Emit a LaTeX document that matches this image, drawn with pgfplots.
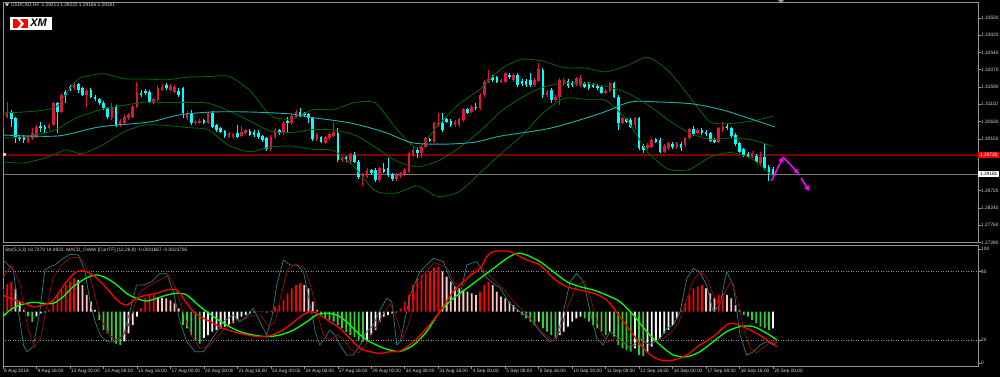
\documentclass[border=0pt]{standalone}
\usepackage{fontspec}
\setmainfont{Liberation Sans}
\usepackage{pgfplots}
\pgfplotsset{compat=1.18}
\usepackage{pgfplotstable}
\usetikzlibrary{arrows.meta}
\definecolor{upc}{RGB}{225,20,60}
\definecolor{dnc}{RGB}{0,255,255}
\definecolor{bbc}{RGB}{0,105,0}
\definecolor{mac}{RGB}{32,178,170}
\definecolor{framec}{RGB}{150,150,150}
\definecolor{txtc}{RGB}{215,215,215}
\definecolor{lvlred}{RGB}{128,0,0}
\definecolor{bidc}{RGB}{120,120,120}
\definecolor{stk}{RGB}{40,125,125}
\definecolor{std}{RGB}{150,10,10}
\definecolor{hred}{RGB}{255,0,0}
\definecolor{hpink}{RGB}{255,195,200}
\definecolor{hgreen}{RGB}{50,205,50}
\definecolor{hwhite}{RGB}{245,245,245}
\definecolor{mred}{RGB}{255,0,0}
\definecolor{mgreen}{RGB}{0,255,0}
\definecolor{fcst}{RGB}{255,0,255}
\newcommand{\tf}{\fontsize{4.8pt}{5.5pt}\selectfont}

\pgfplotstableread{
x o h l c
0 1.30482 1.30814 1.30454 1.30758
1 1.30758 1.31174 1.30731 1.30897
6 1.30066 1.30260 1.30038 1.30205
7 1.30177 1.30454 1.30122 1.30315
8 1.30205 1.30537 1.30177 1.30482
11 1.30454 1.30592 1.30398 1.30537
12 1.30537 1.31174 1.30509 1.31146
14 1.30897 1.31423 1.30869 1.31368
17 1.31561 1.31700 1.31506 1.31645
20 1.31368 1.31534 1.31035 1.31478
26 1.30731 1.31146 1.30675 1.31035
28 1.30537 1.30703 1.30482 1.30648
29 1.30592 1.30814 1.30537 1.30758
30 1.30731 1.30869 1.30675 1.30814
31 1.30758 1.31091 1.30731 1.31035
32 1.31035 1.31728 1.31008 1.31423
36 1.31146 1.31285 1.31118 1.31257
37 1.31229 1.31645 1.31201 1.31561
38 1.31506 1.31672 1.31478 1.31589
40 1.31506 1.31672 1.31478 1.31617
41 1.31451 1.31645 1.31423 1.31589
44 1.30731 1.30925 1.30675 1.30869
46 1.30592 1.30675 1.30537 1.30620
47 1.30592 1.30703 1.30565 1.30648
49 1.30592 1.30897 1.30565 1.30869
54 1.30205 1.30343 1.30177 1.30315
55 1.30205 1.30315 1.30149 1.30288
57 1.30232 1.30509 1.30205 1.30343
58 1.30315 1.30426 1.30260 1.30398
64 1.29872 1.30260 1.29817 1.30205
65 1.30205 1.30454 1.30149 1.30398
67 1.30315 1.30648 1.30260 1.30592
69 1.30592 1.30841 1.30537 1.30786
70 1.30758 1.30952 1.30731 1.30897
75 1.30149 1.30315 1.30094 1.30260
77 1.30038 1.30232 1.30011 1.30205
78 1.30177 1.30343 1.30122 1.30288
79 1.30232 1.30620 1.30205 1.30343
81 1.29568 1.29678 1.29512 1.29623
83 1.29540 1.29762 1.29485 1.29734
86 1.29097 1.29208 1.28848 1.29152
87 1.29097 1.29346 1.29069 1.29291
90 1.29014 1.29374 1.28959 1.29346
94 1.29042 1.29208 1.28986 1.29152
95 1.29125 1.29235 1.29069 1.29208
96 1.29180 1.29346 1.29125 1.29291
97 1.29235 1.29789 1.29208 1.29762
98 1.29706 1.29955 1.29651 1.29845
100 1.29762 1.29983 1.29623 1.29928
101 1.29928 1.30205 1.29900 1.30177
103 1.30066 1.30620 1.30038 1.30592
104 1.30537 1.30869 1.30482 1.30592
108 1.30537 1.30675 1.30482 1.30620
109 1.30537 1.30731 1.30482 1.30703
110 1.30675 1.31008 1.30620 1.30980
112 1.30897 1.31091 1.30869 1.31035
114 1.31008 1.31423 1.30952 1.31368
115 1.31368 1.31783 1.31312 1.31728
116 1.31728 1.32060 1.31700 1.31811
119 1.31728 1.31811 1.31700 1.31783
120 1.31728 1.32004 1.31700 1.31977
122 1.31783 1.31977 1.31728 1.31921
127 1.31645 1.31838 1.31589 1.31783
128 1.31755 1.32254 1.31728 1.32087
130 1.31368 1.31506 1.31312 1.31451
132 1.31229 1.31368 1.31174 1.31312
133 1.31312 1.31838 1.31091 1.31783
134 1.31672 1.31838 1.31617 1.31783
137 1.31672 1.31866 1.31617 1.31838
138 1.31645 1.31921 1.31589 1.31838
144 1.31423 1.31534 1.31395 1.31478
145 1.31478 1.31728 1.31451 1.31700
148 1.30592 1.30758 1.30565 1.30731
151 1.30537 1.30758 1.30398 1.30731
154 1.29900 1.30038 1.29845 1.29983
155 1.29928 1.30177 1.29900 1.30122
158 1.29789 1.30011 1.29762 1.29955
159 1.29900 1.30066 1.29845 1.30038
161 1.29928 1.30066 1.29872 1.30038
163 1.29983 1.30205 1.29928 1.30177
164 1.30177 1.30454 1.30122 1.30426
166 1.30315 1.30454 1.30288 1.30398
171 1.30066 1.30482 1.30038 1.30454
172 1.30398 1.30620 1.30343 1.30482
179 1.29651 1.29817 1.29623 1.29762
181 1.29485 1.29789 1.29429 1.29651
}\upT

\pgfplotstableread{
x o h l c
2 1.30897 1.30952 1.30482 1.30703
3 1.30731 1.30758 1.30038 1.30177
4 1.30205 1.30260 1.30094 1.30149
5 1.30205 1.30260 1.30038 1.30122
9 1.30509 1.30620 1.30343 1.30454
10 1.30482 1.30537 1.30315 1.30426
13 1.31146 1.31174 1.30315 1.30897
15 1.31451 1.31506 1.31146 1.31368
16 1.31589 1.31645 1.31478 1.31534
18 1.31672 1.31700 1.31423 1.31506
19 1.31561 1.31589 1.31340 1.31368
21 1.31506 1.31561 1.31285 1.31312
22 1.31312 1.31368 1.31201 1.31257
23 1.31257 1.31285 1.31091 1.31146
24 1.31146 1.31201 1.30952 1.31008
25 1.31008 1.31035 1.30703 1.30758
27 1.31035 1.31091 1.30482 1.30537
33 1.31423 1.31506 1.31312 1.31368
34 1.31478 1.31534 1.31368 1.31423
35 1.31451 1.31506 1.31146 1.31174
39 1.31645 1.31700 1.31506 1.31561
42 1.31478 1.31561 1.31312 1.31368
43 1.31561 1.31589 1.30731 1.30869
45 1.30869 1.30952 1.30537 1.30592
48 1.30675 1.30703 1.30565 1.30592
50 1.30869 1.30925 1.30454 1.30482
51 1.30537 1.30565 1.30343 1.30398
52 1.30454 1.30482 1.30315 1.30343
53 1.30371 1.30398 1.30177 1.30232
56 1.30315 1.30537 1.30177 1.30205
59 1.30371 1.30426 1.30232 1.30260
60 1.30343 1.30398 1.30205 1.30260
61 1.30315 1.30398 1.30149 1.30205
62 1.30232 1.30260 1.30066 1.30122
63 1.30177 1.30205 1.29817 1.29872
66 1.30398 1.30426 1.30260 1.30315
68 1.30648 1.30758 1.30343 1.30592
71 1.30897 1.31008 1.30758 1.30814
72 1.30869 1.30897 1.30758 1.30814
73 1.30841 1.30869 1.30592 1.30731
74 1.30731 1.30758 1.30094 1.30149
76 1.30205 1.30232 1.30038 1.30066
80 1.30315 1.30454 1.29512 1.29568
82 1.29651 1.29678 1.29512 1.29568
84 1.29706 1.29789 1.29485 1.29512
85 1.29512 1.29568 1.29042 1.29097
88 1.29291 1.29318 1.29152 1.29208
89 1.29291 1.29346 1.28959 1.29014
91 1.29318 1.29485 1.29208 1.29235
92 1.29346 1.29623 1.29097 1.29152
93 1.29180 1.29208 1.28986 1.29042
99 1.29845 1.29900 1.29623 1.29762
102 1.30149 1.30177 1.30066 1.30094
105 1.30592 1.30869 1.30343 1.30398
106 1.30703 1.30731 1.30592 1.30620
107 1.30648 1.30703 1.30482 1.30537
111 1.30980 1.31008 1.30841 1.30869
113 1.31035 1.31146 1.30952 1.31008
117 1.31866 1.31921 1.31728 1.31783
118 1.31866 1.31894 1.31700 1.31728
121 1.31921 1.31977 1.31811 1.31866
123 1.31921 1.31977 1.31589 1.31645
124 1.31755 1.31811 1.31617 1.31672
125 1.31755 1.31811 1.31589 1.31645
126 1.31783 1.31977 1.31589 1.31645
129 1.32060 1.32115 1.31285 1.31368
131 1.31506 1.31561 1.31146 1.31229
135 1.31755 1.31811 1.31561 1.31617
136 1.31700 1.31755 1.31589 1.31645
139 1.31672 1.31728 1.31561 1.31589
140 1.31672 1.31728 1.31506 1.31561
141 1.31645 1.31700 1.31561 1.31589
142 1.31617 1.31672 1.31506 1.31561
143 1.31589 1.31645 1.31395 1.31423
146 1.31700 1.31728 1.31285 1.31312
147 1.31312 1.31368 1.30398 1.30592
149 1.30703 1.30731 1.30592 1.30620
150 1.30675 1.30731 1.30454 1.30482
152 1.30731 1.30758 1.29845 1.29900
153 1.29955 1.30011 1.29762 1.29845
156 1.30149 1.30177 1.30038 1.30066
157 1.30122 1.30177 1.29762 1.29789
160 1.30011 1.30066 1.29872 1.29928
162 1.30011 1.30066 1.29817 1.29900
165 1.30426 1.30509 1.30232 1.30288
167 1.30398 1.30454 1.30260 1.30315
168 1.30343 1.30398 1.30232 1.30288
169 1.30315 1.30343 1.30066 1.30094
170 1.30122 1.30177 1.30038 1.30066
173 1.30509 1.30565 1.30398 1.30454
174 1.30454 1.30482 1.30177 1.30232
175 1.30260 1.30315 1.29955 1.30011
176 1.30038 1.30066 1.29762 1.29789
177 1.29872 1.29900 1.29651 1.29706
178 1.29734 1.29789 1.29623 1.29651
180 1.29678 1.29734 1.29485 1.29512
182 1.29651 1.30038 1.29291 1.29346
183 1.29374 1.29429 1.28986 1.29208
184 1.29318 1.29374 1.29152 1.29180
}\dnT

\pgfplotstableread{
x up mid lo
0 1.30869 1.30177 1.29512
5 1.30897 1.30205 1.29485
10 1.30952 1.30315 1.29623
13 1.31063 1.30426 1.29762
15 1.31395 1.30565 1.29845
17 1.31700 1.30703 1.29789
19 1.31866 1.30803 1.29739
24 1.31957 1.30977 1.29997
29 1.31816 1.31085 1.30354
34 1.31811 1.31171 1.30537
39 1.31788 1.31157 1.30526
44 1.31860 1.31163 1.30465
49 1.31877 1.31140 1.30404
54 1.31885 1.30927 1.29969
59 1.31492 1.30645 1.29797
64 1.30794 1.30362 1.29930
69 1.30703 1.30329 1.29955
74 1.30960 1.30412 1.29864
79 1.30966 1.30396 1.29825
84 1.31160 1.30263 1.29366
89 1.31146 1.29917 1.28709
94 1.30434 1.29543 1.28654
99 1.29900 1.29377 1.28848
104 1.30537 1.29545 1.28554
109 1.31118 1.29903 1.28690
114 1.31525 1.30368 1.29210
119 1.32090 1.30916 1.29742
124 1.32356 1.31301 1.30246
129 1.32303 1.31583 1.30864
134 1.32126 1.31700 1.31273
139 1.32115 1.31683 1.31251
144 1.32010 1.31611 1.31212
149 1.32173 1.31431 1.30689
154 1.32414 1.31102 1.29789
159 1.32035 1.30672 1.29310
164 1.31323 1.30315 1.29307
169 1.30625 1.30138 1.29651
174 1.30581 1.30177 1.29773
179 1.30645 1.30122 1.29598
184 1.30778 1.29944 1.29111
}\bbT

\begin{document}
\begin{tikzpicture}
\fill[black] (0pt,0pt) rectangle (1000pt,377pt);

% ---------------- main price panel ----------------
\begin{scope}[shift={(3pt,134.4pt)}]
\begin{axis}[
  at={(0pt,0pt)}, anchor=south west, scale only axis,
  width=975pt, height=240.6pt,
  xmin=0, xmax=232.97, ymin=1.27280, ymax=1.33943,
  axis line style={framec, line width=0.8pt},
  xtick=\empty,
  ytick={1.27280,1.27760,1.28240,1.28720,1.30150,1.30630,1.31110,1.31590,1.32070,1.32540,1.33020,1.33500},
  yticklabels={1.27280,1.27760,1.28240,1.28720,1.30150,1.30630,1.31110,1.31590,1.32070,1.32540,1.33020,1.33500},
  ytick pos=right, yticklabel pos=right, tick align=outside, major tick length=2.5pt,
  tick style={framec, line width=0.6pt},
  yticklabel style={font=\tf, text=txtc, anchor=west, inner sep=0pt, xshift=0.5pt},
  scaled y ticks=false,
  clip mode=individual,
]
\addplot[lvlred, line width=2pt] coordinates {(0,1.29706) (232.97,1.29706)};
\addplot[bidc, line width=0.7pt] coordinates {(0,1.29181) (232.97,1.29181)};

\addplot[upc, line width=0.9pt, quiver={u=0,v=\thisrow{h}-\thisrow{l}}] table[x=x,y=l] {\upT};
\addplot[upc, line width=2.6pt, quiver={u=0,v=\thisrow{c}-\thisrow{o}}] table[x=x,y=o] {\upT};
\addplot[dnc, line width=0.9pt, quiver={u=0,v=\thisrow{h}-\thisrow{l}}] table[x=x,y=l] {\dnT};
\addplot[dnc, line width=2.6pt, quiver={u=0,v=\thisrow{c}-\thisrow{o}}] table[x=x,y=o] {\dnT};

\addplot[bbc, line width=0.8pt, smooth, tension=0.4] table[x=x,y=up] {\bbT};
\addplot[bbc, line width=0.8pt, smooth, tension=0.4] table[x=x,y=mid] {\bbT};
\addplot[bbc, line width=0.8pt, smooth, tension=0.4] table[x=x,y=lo] {\bbT};
\addplot[mac, line width=0.9pt, smooth, tension=0.5] coordinates {
(0,1.30260) (13,1.30232) (23,1.30482) (35,1.30620) (42,1.30814) (50,1.30897) (59,1.30897) (69,1.30841) (73,1.30758) (83,1.30592) (91,1.30343) (97,1.30066) (101,1.30011) (107,1.30011) (113,1.30066) (119,1.30232) (131,1.30454) (143,1.30869) (150,1.31174) (157,1.31174) (165,1.31118) (172,1.30952) (178,1.30731) (184.5,1.30482)};

\addplot[fcst, line width=1.5pt, -{Triangle[length=5pt,width=5pt]}] coordinates {(183.6,1.28986) (186.4,1.29651)};
\addplot[fcst, line width=1.5pt, -{Triangle[length=5pt,width=5pt]}] coordinates {(186.4,1.29651) (190.2,1.29180)};
\addplot[fcst, line width=1.5pt, -{Triangle[length=5pt,width=5pt]}] coordinates {(190.7,1.29069) (192.6,1.28709)};

\node[anchor=west, fill=red, text=white, font=\tf, inner sep=0.6pt, minimum height=6.5pt, minimum width=21pt] at (axis cs:232.97,1.29706) {1.29720};
\node[anchor=west, fill=white, text=black, font=\tf, inner sep=0.6pt, minimum height=6.5pt, minimum width=21pt] at (axis cs:232.97,1.29181) {1.29181};
\end{axis}
\end{scope}

% ---------------- lower panel: frame, ticks ----------------
\begin{scope}[shift={(3pt,11pt)}]
\begin{axis}[
  at={(0pt,0pt)}, anchor=south west, scale only axis,
  width=975pt, height=121pt,
  xmin=0, xmax=232.97, ymin=-2.63, ymax=103.5,
  axis line style={framec, line width=0.8pt},
  xtick={0,8,...,184},
  xticklabels={8 Aug 2018,9 Aug 16:00,13 Aug 00:00,14 Aug 08:00,15 Aug 16:00,17 Aug 00:00,20 Aug 08:00,21 Aug 16:00,23 Aug 00:00,24 Aug 08:00,27 Aug 16:00,29 Aug 00:00,30 Aug 08:00,31 Aug 16:00,4 Sep 00:00,5 Sep 08:00,6 Sep 16:00,10 Sep 00:00,11 Sep 08:00,12 Sep 16:00,14 Sep 00:00,17 Sep 08:00,18 Sep 16:00,20 Sep 00:00},
  ytick={0,20,80,100}, yticklabels={0,20,80,100},
  xtick pos=left, ytick pos=right, yticklabel pos=right,
  tick align=outside, major tick length=2.5pt,
  tick style={framec, line width=0.6pt},
  xticklabel style={font=\tf, text=txtc, anchor=north west, inner sep=0pt, xshift=1pt, yshift=-0.5pt},
  yticklabel style={font=\tf, text=txtc, anchor=west, inner sep=0pt, xshift=0.5pt},
  clip mode=individual,
]
\addplot[framec, line width=0.6pt, dash pattern=on 1pt off 1.5pt] coordinates {(0,20) (232.97,20)};
\addplot[framec, line width=0.6pt, dash pattern=on 1pt off 1.5pt] coordinates {(0,80) (232.97,80)};
\end{axis}
\end{scope}

% ---------------- lower panel: OsMA histogram ----------------
\begin{scope}[shift={(3pt,11pt)}]
\begin{axis}[
  at={(0pt,0pt)}, anchor=south west, scale only axis,
  width=975pt, height=121pt,
  xmin=0, xmax=232.97, ymin=-47.63, ymax=58.5,
  hide axis, clip mode=individual,
]
\addplot[ybar, bar width=1.8pt, bar shift=0pt, fill=hred, draw=none] coordinates {
(0,20)(1,24)(2,26)(11,1.5)(12,10)(13,14.6)(14,19)(15,23.4)(16,26.3)(17,29.2)(33,3)(34,11.7)(35,14.6)(36,15)(61,0.5)(64,0.8)(65,4.4)(66,5.8)(67,10.2)(68,16)(69,20.5)(70,23.4)(71,24.9)(95,2.9)(96,8.8)(97,14.6)(98,23.4)(99,29.2)(100,32.2)(101,33.6)(102,35.1)(103,38.6)(104,39.5)(114,17.5)(115,23.4)(116,26.3)(162,1.5)(163,7.3)(164,14.6)(165,20.5)(166,21.9)(167,23.4)(171,14.6)(172,16)};
\addplot[ybar, bar width=1.8pt, bar shift=0pt, fill=hpink, draw=none] coordinates {
(3,20)(4,9)(5,1.5)(18,28)(19,23.4)(20,14.6)(21,8.8)(22,1.5)(37,13)(38,12)(39,11.7)(40,10)(41,7.3)(42,3)(62,0.3)(72,23.4)(73,20.5)(74,8.8)(75,1.5)(105,35.1)(106,30.7)(107,26.3)(108,21.9)(109,20.5)(110,19)(111,17.5)(112,16)(113,14.6)(117,23.4)(118,17.5)(119,13.2)(120,11.7)(121,8.8)(122,5.8)(123,1.5)(168,20.5)(169,16)(170,11.7)(173,14.6)(174,11.7)(175,5.8)(176,1.5)};
\addplot[ybar, bar width=1.8pt, bar shift=0pt, fill=hgreen, draw=none] coordinates {
(6,-4)(7,-9)(23,-7.3)(24,-16)(25,-19)(26,-25)(27,-28)(28,-29.2)(43,-11.7)(44,-14.6)(45,-20.5)(46,-25)(47,-28)(76,-2.9)(77,-5.8)(78,-7.3)(79,-8.8)(80,-11.7)(81,-14.6)(82,-18)(83,-20.5)(84,-22)(85,-25)(86,-26.3)(124,-2.9)(125,-5.8)(126,-8.8)(127,-11.7)(129,-14.6)(130,-17.5)(131,-20.5)(132,-23.4)(139,-5.8)(140,-8.8)(141,-11.7)(142,-14.6)(143,-17.5)(144,-20.5)(146,-21.9)(147,-29.2)(148,-32.2)(149,-33.6)(150,-35.1)(152,-38)(153,-39)(177,-2.9)(178,-4.4)(179,-7.3)(180,-10.2)(181,-13.2)(182,-14.6)(183,-16)};
\addplot[ybar, bar width=1.8pt, bar shift=0pt, fill=hwhite, draw=none] coordinates {
(8,-4)(9,-1.5)(10,-0.5)(29,-26)(30,-19)(31,-11.7)(32,-4.4)(48,-23)(49,-20.5)(50,-17.5)(51,-16)(52,-14.6)(53,-13)(54,-11.7)(55,-10)(56,-7.3)(57,-4.4)(58,-3)(59,-1.5)(60,-0.5)(63,-0.5)(87,-26)(88,-20.5)(89,-16)(90,-8.8)(91,-4.4)(92,-2.9)(93,-1.5)(94,-0.5)(128,-8.8)(133,-20.5)(134,-17.5)(135,-13.2)(136,-8.8)(137,-5.8)(138,-4.4)(145,-17.5)(151,-32.2)(154,-35.1)(155,-30.7)(156,-26.3)(157,-23.4)(158,-19)(159,-16)(160,-11.7)(161,-5.8)(184,-14.6)};
\end{axis}
\end{scope}

% ---------------- lower panel: lines ----------------
\begin{scope}[shift={(3pt,11pt)}]
\begin{axis}[
  at={(0pt,0pt)}, anchor=south west, scale only axis,
  width=975pt, height=121pt,
  xmin=0, xmax=232.97, ymin=-2.63, ymax=103.5,
  hide axis, clip mode=individual,
]
\addplot[stk, line width=0.7pt] coordinates {
(0,90.3) (0.9,87.4) (2.5,81.6) (3.7,45) (4.9,15.8) (5.7,9.9) (7.2,14.3) (8.8,45) (10,81.6) (11.2,84.5) (12.4,86) (14.4,91.8) (16,95.3) (18,94.7) (19.6,80.1) (20.8,53.8) (22,36.2) (23.2,24.6) (24.8,18.7) (26.8,18.7) (28.8,24.6) (30.3,45) (31.9,68.4) (33.5,68.4) (35.5,71.3) (37.5,78.6) (39.1,78.6) (40.7,62.6) (42.3,36.2) (43.9,18.7) (45.9,9.9) (47.9,9.9) (49.5,18.7) (51.1,27.5) (52.6,36.2) (55,42.1) (56.6,36.2) (58.2,40.6) (59.8,47.9) (61.8,33.3) (63,24.6) (64.2,39.2) (65.4,68.4) (67,90.3) (68.6,86) (70.2,86) (71.8,80.1) (73.4,50.9) (74.6,27.5) (75.7,15.8) (76.9,21.6) (78.1,28.9) (79.3,24.6) (80.5,15.8) (82.1,7) (83.7,7) (85.3,15.8) (86.9,27.5) (88.5,33.3) (90.1,46.5) (91.7,56.7) (92.9,53.8) (94.1,15.8) (94.9,18.7) (97.3,59.6) (99.6,80.1) (102.8,91.8) (105.2,88.9) (106.8,74.3) (109.2,59.6) (110.8,86) (113.2,88.9) (115.6,74.3) (118.8,65.5) (121.1,52.3) (123.5,45) (125.9,39.2) (128.3,27.5) (130.7,18.7) (132.3,21.6) (133.9,45) (135.5,71.3) (137.1,78.6) (138.7,71.3) (140.3,45) (141.9,21.6) (143.4,15.8) (145,27.5) (147.4,21.6) (149.8,12.9) (152.2,21.6) (154.6,15.8) (157,21.6) (158.6,30.4) (160.2,33.3) (161.8,45) (163.4,74.3) (165,83) (166.5,80.1) (168.1,68.4) (169.7,45) (171.3,50.9) (172.9,80.1) (174.5,68.4) (176.1,24.6) (177.7,7) (179.3,9.9) (180.9,15.8) (182.5,18.7) (184.1,15.8) (184.9,18.7)};
\addplot[std, line width=0.7pt] coordinates {
(0,75)(2,86)(4,70)(6,30)(7.5,14)(9,22)(10.5,50)(12,75)(14,86)(16,92)(18.5,93)(20.5,80)(22,58)(23.5,38)(25.5,24)(27.5,20)(29.5,28)(31,45)(32.5,62)(35,68)(37,72)(39.5,77)(41,68)(43,45)(45,24)(47,13)(49,14)(51,22)(53,30)(55.5,38)(57.5,38)(59.5,42)(61.5,42)(63.5,32)(65,36)(66.5,60)(68,82)(70,87)(72,83)(73.5,68)(75,45)(76.5,25)(78,20)(80,25)(81.5,20)(83,12)(85,9)(86.5,15)(88,25)(89.5,34)(91,44)(92.5,52)(94,40)(95.5,22)(97,35)(98.5,60)(100.5,78)(103,88)(106,84)(108,70)(110,68)(112,80)(114,85)(116.5,76)(119.5,65)(122,54)(124.5,45)(127,35)(129.5,25)(131.5,19)(133,27)(135,50)(137,68)(139,72)(140.5,55)(142.5,30)(144.5,18)(146,22)(148.5,18)(151,15)(153,17)(155.5,18)(158,22)(160,28)(161.5,36)(163,52)(165,73)(166.5,80)(168,76)(169.5,62)(171,50)(172.5,62)(174,72)(175.5,55)(177,30)(178.5,13)(180,9)(181.5,13)(183,17)(184.9,19.5)};
\addplot[mgreen, line width=1.3pt, smooth] coordinates {
(0,40.6) (1.7,46.5) (4.1,50.9) (7.2,53.2) (9.6,52.3) (12,52.3) (14.4,58.2) (16.8,67) (20,74.8) (22.4,77.2) (24.8,74.3) (27.2,68.4) (29.5,61.1) (31.9,56.7) (34.3,54.4) (36.7,56.7) (39.1,59.6) (41.5,61.1) (43.9,59.6) (47.1,49.4) (50.3,40.6) (53.4,33.3) (56.6,27.5) (59.8,24.6) (63,23.1) (66.2,24.6) (69.4,28.9) (72.6,36.2) (74.9,42.1) (77.3,43.6) (79.7,42.1) (82.1,36.2) (84.5,27.5) (86.9,20.2) (90.1,14.3) (92.5,11.4) (94.9,10.2) (98.1,15.8) (101.2,27.5) (104.4,45) (107.6,56.7) (110.8,65.5) (114,74.3) (117.2,83) (120.4,91.8) (122.8,96.2) (125.1,94.7) (128.3,88.9) (131.5,80.1) (134.7,71.3) (137.9,66.9) (141.1,64) (144.2,59.6) (147.4,53.8) (150.6,42.1) (153.8,27.5) (157,15.8) (160.2,7) (163.4,5.5) (166.5,9.9) (169.7,18.7) (172.9,27.5) (176.1,31.9) (179.3,31.9) (182.5,26) (184.9,20.2)};
\addplot[mred, line width=1.3pt, smooth] coordinates {
(0,59.6) (1.7,56.7) (4.1,53.8) (7.2,49.4) (9.6,50.9) (12,55.3) (15.2,71.3) (17.6,80.1) (20,80.1) (22.4,74.3) (24.8,65.5) (27.2,55.3) (29.5,50.9) (31.9,56.7) (34.3,59.6) (36.7,61.1) (39.1,64) (41.5,64) (43.1,56.7) (45.5,45) (47.9,39.2) (50.3,34.8) (52.6,30.4) (55,27.5) (58.2,24.6) (61.4,23.1) (63.8,24) (66.2,27.5) (68.6,33.3) (71,40.6) (73.4,45) (75.7,42.1) (78.1,36.2) (80.5,30.4) (82.9,21.6) (85.3,12.9) (87.7,9.9) (90.1,8.5) (92.5,9.9) (94.9,10.5) (98.1,18.7) (101.2,30.4) (104.4,45) (107.6,62.6) (110.8,74.3) (114,83) (115.6,93.3) (117.2,97.7) (121.1,97.7) (125.1,90.3) (128.3,86) (131.5,74.3) (134.7,67) (137.9,64) (141.1,61.1) (144.2,55.3) (147.4,40.6) (150.6,24.6) (153.8,9.9) (157,2.6) (160.2,2.6) (163.4,7) (166.5,15.8) (169.7,23.1) (172.9,33.3) (174.5,34.8) (177.7,30.4) (180.7,24.6) (183.2,18.7) (184.9,14.3)};
\end{axis}
\end{scope}

% ---------------- texts and decorations ----------------
\fill[txtc] (5pt,373.5pt) -- (9pt,373.5pt) -- (7pt,370.5pt) -- cycle;
\node[anchor=west, font=\tf, text=txtc, inner sep=0pt] at (11pt,372pt) {USDCAD,H4\ \ 1.29213 1.29222 1.29166 1.29181};
\fill[white] (10pt,346.5pt) rectangle (52pt,360pt);
\fill[red] (13pt,348.5pt) rectangle (28pt,358pt);
\fill[white] (17pt,358pt) -- (20pt,358pt) -- (24pt,353.2pt) -- (20pt,348.5pt) -- (17pt,348.5pt) -- (21pt,353.2pt) -- cycle;
\node[font=\fontsize{11pt}{11pt}\selectfont\bfseries\itshape, text=black, inner sep=0pt] at (38.5pt,354pt) {XM};
\node[anchor=west, font=\tf, text=txtc, inner sep=0pt] at (5pt,127pt) {Sto(5,3,3) 18.7379 19.4923\ \ MACD\_OsMA [CurrTF] (12,26,9) -0.0031667 -0.0023785};
\fill[framec] (778pt,377pt) -- (784pt,377pt) -- (781pt,373.5pt) -- cycle;
\fill[hpink] (3pt,221pt) rectangle (5.5pt,223.5pt);

\pgfresetboundingbox
\useasboundingbox (0pt,0pt) rectangle (1000pt,377pt);
\end{tikzpicture}
\end{document}
